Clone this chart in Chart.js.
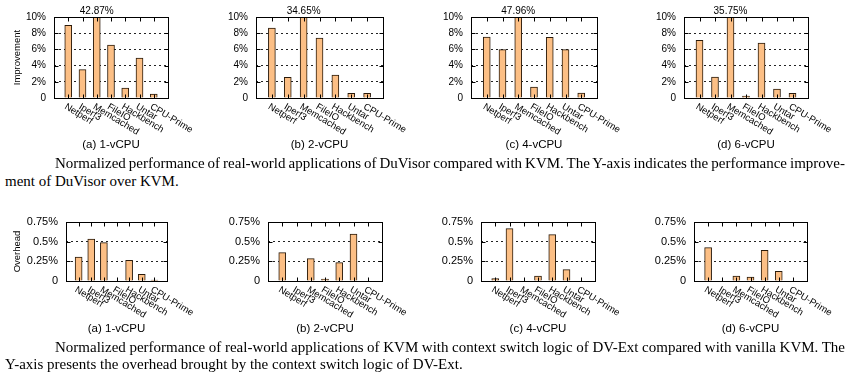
<!DOCTYPE html>
<html><head><meta charset="utf-8">
<script src="https://cdn.jsdelivr.net/npm/chart.js@4/dist/chart.umd.min.js"></script>
<style>
html,body{margin:0;padding:0;background:#fff;width:857px;height:383px;overflow:hidden;position:relative;}
canvas{position:absolute;}
.sub{position:absolute;font-family:'Liberation Sans',Arial,sans-serif;font-size:11.5px;color:#000;transform:translate(-50%,-50%);white-space:nowrap;}
.cap{position:absolute;font-family:'Liberation Serif','Times New Roman',serif;font-size:15px;color:#000;white-space:nowrap;line-height:1;transform:translateY(-50%);}
</style></head><body>
<script>
// ---- data ----
const apps = ['Netperf','Iperf3','Memcached','FileIO','Hackbench','Untar','CPU-Prime'];
const improve1vcpu = [8.97, 3.50, 42.87, 6.54, 1.23, 4.94, 0.49];
const improve2vcpu = [8.64, 2.55, 34.65, 7.41, 2.84, 0.58, 0.58];
const improve4vcpu = [7.53, 5.97, 47.96, 1.36, 7.49, 5.97, 0.62];
const improve6vcpu = [7.12, 2.59, 35.75, 0.25, 6.79, 1.11, 0.58];
const overhead1vcpu = [0.305, 0.534, 0.487, 0, 0.263, 0.085, 0.013];
const overhead2vcpu = [0.360, 0, 0.284, 0.025, 0.233, 0.597, 0];
const overhead4vcpu = [0.030, 0.665, 0, 0.064, 0.589, 0.144, 0];
const overhead6vcpu = [0.424, 0, 0.064, 0.051, 0.390, 0.123, 0];
const improveTicks = [0, 2, 4, 6, 8, 10];
const overheadTicks = [0, 0.25, 0.5, 0.75];
const subLabels = ['(a) 1-vCPU', '(b) 2-vCPU', '(c) 4-vCPU', '(d) 6-vCPU'];
const yTitleTop = 'Improvement';
const yTitleBottom = 'Overhead';
const captionTop = ['Normalized performance of real-world applications of DuVisor compared with KVM. The Y-axis indicates the performance improve-', 'ment of DuVisor over KVM.'];
const captionBottom = ['Normalized performance of real-world applications of KVM with context switch logic of DV-Ext compared with vanilla KVM. The', 'Y-axis presents the overhead brought by the context switch logic of DV-Ext.'];

// ---- layout ----
const topBoxes = [{L:54,R:168},{L:256,R:383},{L:471,R:597},{L:684,R:808}];
const botBoxes = [{L:66,R:167},{L:268,R:382},{L:481,R:595},{L:694,R:807}];
const topRow = {T:17, B:98};
const botRow = {T:222, B:281};
const SANS = "'Liberation Sans', Arial, sans-serif";
const BAR_FILL = '#fcbf85';
const BAR_EDGE = '#2a1a0a';

const framePlugin = {
  id: 'frame',
  afterDatasetsDraw(chart, args, o) {
    const {ctx, chartArea: a, scales: {x, y}} = chart;
    const line = (x1, y1, x2, y2) => { ctx.beginPath(); ctx.moveTo(x1, y1); ctx.lineTo(x2, y2); ctx.stroke(); };
    ctx.save();
    ctx.strokeStyle = '#000'; ctx.lineWidth = 1;
    const l = Math.round(a.left) + 0.5, r = Math.round(a.right) + 0.5, t = Math.round(a.top) + 0.5, b = Math.round(a.bottom) + 0.5;
    ctx.strokeRect(l, t, r - l, b - t);
    y.ticks.forEach(tk => {
      const py = Math.round(y.getPixelForValue(tk.value)) + 0.5;
      line(l, py, l + 4, py); line(r - 4, py, r, py);
    });
    for (let i = 1; i <= o.labels.length; i++) {
      const px = Math.round(x.getPixelForValue(i)) + 0.5;
      line(px, b, px, b - 4); line(px, t, px, t + 4);
    }
    ctx.fillStyle = '#000';
    ctx.font = '9.5px ' + SANS;
    ctx.textAlign = 'left'; ctx.textBaseline = 'middle';
    o.labels.forEach((lab, i) => {
      const px = x.getPixelForValue(i + 1);
      ctx.save(); ctx.translate(px - 3, a.bottom + 8); ctx.rotate(31 * Math.PI / 180);
      ctx.fillText(lab, 0, 0); ctx.restore();
    });
    ctx.font = '10px ' + SANS; ctx.textAlign = 'center';
    o.values.forEach((v, i) => {
      if (v > y.max) ctx.fillText(v.toFixed(2) + '%', x.getPixelForValue(i + 1), a.top - 6);
    });
    if (o.title) {
      ctx.save(); ctx.translate(o.titleX, (a.top + a.bottom) / 2); ctx.rotate(-Math.PI / 2);
      ctx.font = '9.5px ' + SANS; ctx.textAlign = 'center'; ctx.textBaseline = 'middle';
      ctx.fillText(o.title, 0, 0); ctx.restore();
    }
    ctx.restore();
  }
};

function makeChart(box, row, values, tickVals, tickFont, title) {
  const ML = 65, MT = 20, MR = 45, MB = 50;
  const W = box.R - box.L + ML + MR, H = row.B - row.T + MT + MB;
  const cv = document.createElement('canvas');
  cv.width = W; cv.height = H;
  cv.style.width = W + 'px'; cv.style.height = H + 'px';
  cv.style.left = (box.L - ML) + 'px'; cv.style.top = (row.T - MT) + 'px';
  document.body.appendChild(cv);
  const yMax = tickVals[tickVals.length - 1];
  new Chart(cv, {
    type: 'bar',
    data: {
      labels: ['', ...apps, ''],
      datasets: [{
        data: [null, ...values, null],
        backgroundColor: BAR_FILL, borderColor: BAR_EDGE, borderWidth: 1,
        barThickness: 7, clip: 0
      }]
    },
    options: {
      responsive: false, animation: false, devicePixelRatio: 1,
      layout: { padding: { left: 0, top: MT, right: MR, bottom: 0 } },
      plugins: {
        legend: { display: false }, tooltip: { enabled: false },
        frame: { labels: apps, values: values, title: title, titleX: 17 - (box.L - ML) }
      },
      scales: {
        x: {
          type: 'category', offset: false,
          grid: { display: false, drawTicks: false }, border: { display: false },
          ticks: { display: false },
          afterFit: s => { s.height = MB; }
        },
        y: {
          min: 0, max: yMax,
          afterBuildTicks: s => { s.ticks = tickVals.map(v => ({ value: v })); },
          afterFit: s => { s.width = ML; },
          grid: {
            drawTicks: false, lineWidth: 1,
            color: c => (c.tick && (c.tick.value === 0 || c.tick.value === yMax)) ? 'rgba(0,0,0,0)' : '#222'
          },
          border: { display: false, dash: [2, 3] },
          ticks: {
            padding: 8, color: '#000', font: { family: SANS, size: tickFont },
            callback: v => v === 0 ? '0' : v + '%'
          }
        }
      }
    },
    plugins: [framePlugin]
  });
}

const improveSets = [improve1vcpu, improve2vcpu, improve4vcpu, improve6vcpu];
const overheadSets = [overhead1vcpu, overhead2vcpu, overhead4vcpu, overhead6vcpu];
improveSets.forEach((vals, i) => makeChart(topBoxes[i], topRow, vals, improveTicks, 10, i === 0 ? yTitleTop : null));
overheadSets.forEach((vals, i) => makeChart(botBoxes[i], botRow, vals, overheadTicks, 11, i === 0 ? yTitleBottom : null));

function addSub(text, cx, cy) {
  const d = document.createElement('div'); d.className = 'sub'; d.textContent = text;
  d.style.left = cx + 'px'; d.style.top = cy + 'px'; document.body.appendChild(d);
}
subLabels.forEach((t, i) => {
  addSub(t, (topBoxes[i].L + topBoxes[i].R) / 2, 144);
  addSub(t, (botBoxes[i].L + botBoxes[i].R) / 2, 328);
});

function addCap(text, x, y, endX) {
  const d = document.createElement('div'); d.className = 'cap'; d.textContent = text;
  d.style.left = x + 'px'; d.style.top = y + 'px'; document.body.appendChild(d);
  if (endX) {
    const nat = d.getBoundingClientRect().width;
    const spaces = (text.match(/ /g) || []).length;
    d.style.wordSpacing = ((endX - x - nat) / spaces) + 'px';
  }
}
addCap(captionTop[0], 55, 163, 845);
addCap(captionTop[1], 5, 181);
addCap(captionBottom[0], 55, 347, 845);
addCap(captionBottom[1], 5, 364);
</script>
</body></html>
